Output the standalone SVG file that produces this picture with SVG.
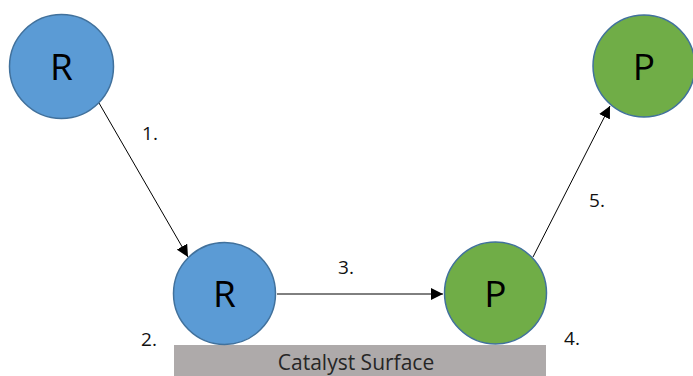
<svg xmlns="http://www.w3.org/2000/svg" width="693" height="376" viewBox="0 0 693 376">
  <style>
    .reactant { fill: #5b9bd5; stroke: #41719c; stroke-width: 1.5; }
    .product { fill: #70ad47; stroke: #41719c; stroke-width: 1.5; }
    .letter { font-family: "Open Sans", "Noto Sans", sans-serif; font-size: 37px; fill: #000; text-anchor: middle; }
    .step { font-family: "Open Sans", "Noto Sans", sans-serif; font-size: 19px; fill: #111; text-anchor: middle; }
    .surface-label { font-family: "Open Sans", "Noto Sans", sans-serif; font-size: 21px; fill: #262626; text-anchor: middle; }
    .edge { stroke: #000; stroke-width: 1; fill: none; marker-end: url(#arrow); }
  </style>
  <defs>
    <marker id="arrow" viewBox="0 0 10 10" refX="10" refY="5" markerWidth="12" markerHeight="12" markerUnits="userSpaceOnUse" orient="auto">
      <path d="M0,0 L10,5 L0,10 Z" fill="#000"/>
    </marker>
  </defs>

  <rect width="693" height="376" fill="#fff"/>

  <!-- catalyst surface -->
  <g id="surface">
    <rect x="174" y="345" width="372" height="31" fill="#aeaaaa"/>
    <text class="surface-label" x="356" y="370">Catalyst Surface</text>
  </g>

  <!-- connectors -->
  <g id="connectors">
    <line class="edge" x1="99" y1="103" x2="188" y2="257"/>
    <line class="edge" x1="277" y1="294" x2="443" y2="294"/>
    <line class="edge" x1="533" y1="257" x2="610" y2="106"/>
  </g>

  <!-- step labels -->
  <g id="labels">
    <text class="step" x="150" y="140">1.</text>
    <text class="step" x="149" y="346">2.</text>
    <text class="step" x="346" y="274">3.</text>
    <text class="step" x="572" y="345">4.</text>
    <text class="step" x="597" y="207">5.</text>
  </g>

  <g id="reactant-gas">
    <circle class="reactant" cx="61.5" cy="66.5" r="52"/>
    <text class="letter" x="61.5" y="80">R</text>
  </g>
  <g id="reactant-adsorbed">
    <circle class="reactant" cx="224.5" cy="293.5" r="51"/>
    <text class="letter" x="224.5" y="307">R</text>
  </g>
  <g id="product-adsorbed">
    <circle class="product" cx="495.5" cy="293" r="51"/>
    <text class="letter" x="495.5" y="306.5">P</text>
  </g>
  <g id="product-gas">
    <circle class="product" cx="644" cy="66" r="51"/>
    <text class="letter" x="644" y="79.5">P</text>
  </g>
</svg>
